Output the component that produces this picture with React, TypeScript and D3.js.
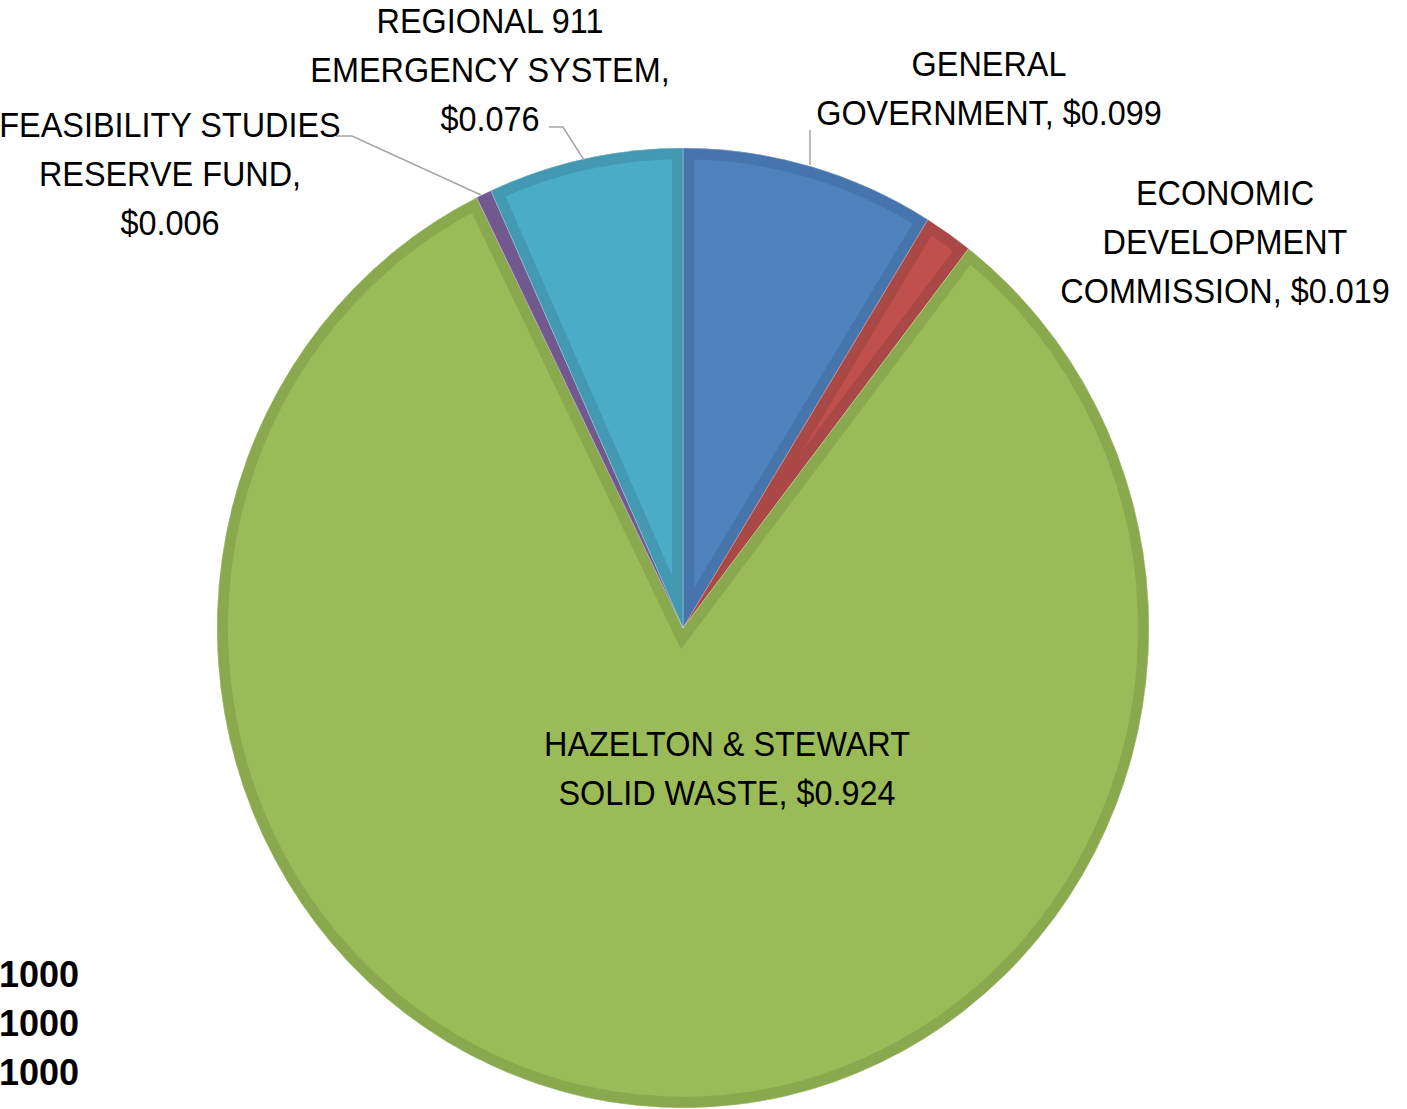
import React from "react";
import * as d3 from "d3";

const categories = [
  "GENERAL GOVERNMENT",
  "ECONOMIC DEVELOPMENT COMMISSION",
  "HAZELTON & STEWART SOLID WASTE",
  "FEASIBILITY STUDIES RESERVE FUND",
  "REGIONAL 911 EMERGENCY SYSTEM",
];
const values = [0.099, 0.019, 0.924, 0.006, 0.076];
const fills = ["#4F81BD", "#C0504D", "#9BBB59", "#8064A2", "#4BACC6"];
const edges = ["#4675AD", "#AA4845", "#8AA94F", "#715990", "#4399B1"];

const labelLines = [
  ["GENERAL", "GOVERNMENT, $0.099"],
  ["ECONOMIC", "DEVELOPMENT", "COMMISSION, $0.019"],
  ["HAZELTON & STEWART", "SOLID WASTE, $0.924"],
  ["FEASIBILITY STUDIES", "RESERVE FUND,", "$0.006"],
  ["REGIONAL 911", "EMERGENCY SYSTEM,", "$0.076"],
];
const labelAnchors = [
  [989, 76],
  [1225, 205],
  [727, 756],
  [170, 137],
  [490, 33],
];
const leaderLines = [
  [[810, 130], [810, 165]],
  null,
  null,
  [[336, 136], [352, 136], [481, 195]],
  [[549, 127], [563, 127], [584, 160]],
];
const footerTexts = ["1000", "1000", "1000"];

export default function App() {
  const cx = 683;
  const cy = 628;
  const rx = 466;
  const ry = 480;
  const pie = d3.pie<number>().sort(null).value((d) => d);
  const arcs = pie(values);
  const arc = d3.arc<d3.PieArcDatum<number>>().innerRadius(0).outerRadius(rx);
  const line = d3.line();
  const lineH = 49;

  return (
    <svg
      width={1407}
      height={1109}
      style={{ position: "absolute", left: 0, top: 0, background: "#fff" }}
    >
      <defs>
        {arcs.map((a, i) => (
          <clipPath id={`clip${i}`} key={i}>
            <path d={arc(a) || ""} />
          </clipPath>
        ))}
      </defs>
      <g transform={`translate(${cx},${cy}) scale(1,${ry / rx})`}>
        {arcs.map((a, i) => (
          <g key={i}>
            <path d={arc(a) || ""} fill={fills[i]} />
            <path
              d={arc(a) || ""}
              fill="none"
              stroke={edges[i]}
              strokeWidth={22}
              clipPath={`url(#clip${i})`}
              strokeLinejoin="miter"
            />
            <path d={arc(a) || ""} fill="none" stroke="#ffffff" strokeOpacity={0.35} strokeWidth={0.8} />
          </g>
        ))}
      </g>
      {leaderLines.map((pts, i) =>
        pts ? (
          <path key={i} d={line(pts as [number, number][]) || ""} fill="none" stroke="#A6A6A6" strokeWidth={1.5} />
        ) : null
      )}
      {labelLines.map((lines, i) =>
        lines.map((t, j) => (
          <text
            key={`${i}-${j}`}
            transform={`translate(${labelAnchors[i][0]},${labelAnchors[i][1] + j * lineH}) scale(0.9,1)`}
            textAnchor="middle"
            fontFamily="Liberation Sans, Arial, sans-serif"
            fontSize={36}
            fill="#000"
          >
            {t}
          </text>
        ))
      )}
      {footerTexts.map((t, i) => (
        <text
          key={i}
          transform={`translate(-1,${987 + i * 49})`}
          fontFamily="Liberation Sans, Arial, sans-serif"
          fontWeight="bold"
          fontSize={36}
          fill="#000"
        >
          {t}
        </text>
      ))}
    </svg>
  );
}
